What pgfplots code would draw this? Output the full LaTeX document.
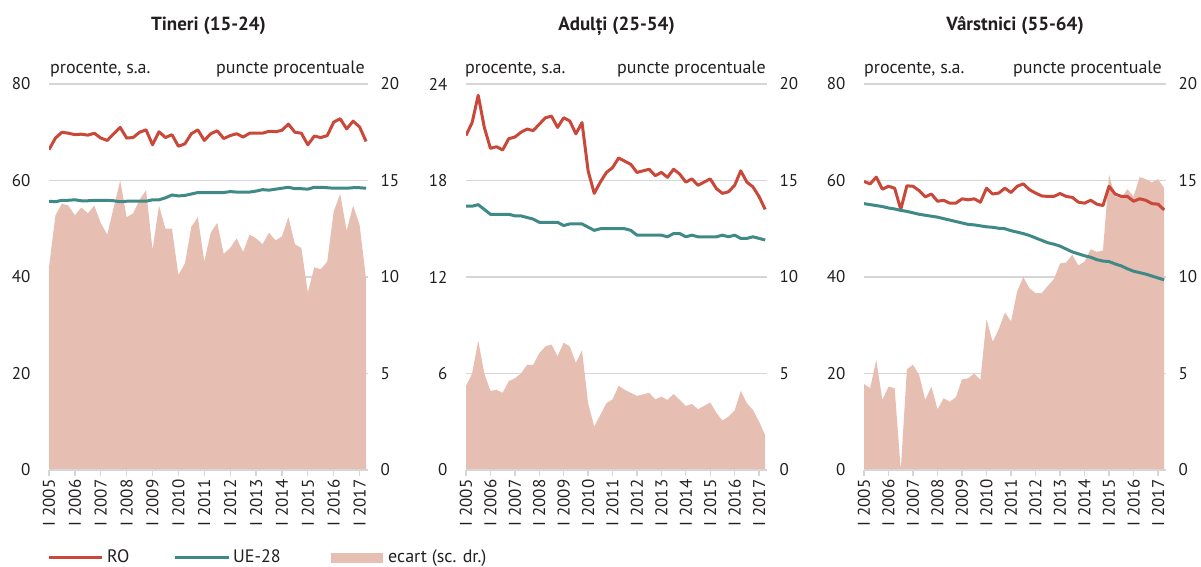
\documentclass[border=0pt]{standalone}
\usepackage{fontspec}
\setmainfont{PT Sans}
\usepackage{pgfplots}
\usepackage{pgfplotstable}
\pgfplotsset{compat=1.18}

\definecolor{roC}{HTML}{C9483A}
\definecolor{ueC}{HTML}{3F8A87}
\definecolor{gapC}{HTML}{E6BEB2}
\definecolor{gridC}{HTML}{D6D6D6}
\definecolor{txtC}{HTML}{231F20}

\pgfplotstableread{
i ro ue gap
0 66.4 55.7 10.5
1 68.8 55.6 13.2
2 70.0 55.9 13.8
3 69.8 55.9 13.7
4 69.5 56.0 13.2
5 69.6 55.8 13.6
6 69.4 55.8 13.3
7 69.8 55.9 13.7
8 68.8 55.9 12.8
9 68.3 55.9 12.2
10 69.7 55.8 13.6
11 71.0 55.6 15.0
12 68.8 55.7 13.1
13 68.9 55.7 13.3
14 70.0 55.7 14.0
15 70.5 55.7 14.5
16 67.4 56.0 11.4
17 70.1 56.0 13.7
18 68.9 56.4 12.5
19 69.5 57.0 12.5
20 67.1 56.8 10.1
21 67.6 56.9 10.7
22 69.7 57.2 12.6
23 70.5 57.5 13.1
24 68.3 57.5 10.8
25 69.7 57.5 12.3
26 70.3 57.5 12.8
27 68.7 57.5 11.2
28 69.3 57.7 11.5
29 69.7 57.6 12.0
30 69.0 57.6 11.3
31 69.8 57.6 12.2
32 69.8 57.8 12.0
33 69.8 58.1 11.7
34 70.2 58.0 12.3
35 70.1 58.2 11.9
36 70.4 58.4 12.1
37 71.7 58.6 13.1
38 70.0 58.3 11.7
39 69.8 58.3 11.5
40 67.4 58.2 9.2
41 69.2 58.6 10.5
42 68.9 58.6 10.4
43 69.3 58.5 10.8
44 72.1 58.4 13.4
45 72.8 58.4 14.3
46 70.7 58.4 12.4
47 72.3 58.5 13.7
48 71.1 58.5 12.7
49 68.1 58.4 9.9
}\tabA

\pgfplotstableread{
i ro ue gap
0 20.8 16.4 4.36
1 21.6 16.4 5.0
2 23.3 16.5 6.7
3 21.3 16.2 5.0
4 20.0 15.9 4.1
5 20.1 15.9 4.15
6 19.9 15.9 4.0
7 20.6 15.9 4.6
8 20.7 15.8 4.75
9 21.0 15.8 5.0
10 21.2 15.7 5.45
11 21.1 15.6 5.45
12 21.5 15.4 6.05
13 21.9 15.4 6.4
14 22.0 15.4 6.5
15 21.3 15.4 5.9
16 21.9 15.2 6.6
17 21.7 15.3 6.4
18 20.9 15.3 5.55
19 21.6 15.3 6.2
20 18.6 15.1 3.46
21 17.2 14.9 2.25
22 17.9 15.0 2.85
23 18.5 15.0 3.46
24 18.8 15.0 3.66
25 19.4 15.0 4.36
26 19.2 15.0 4.15
27 19.0 14.9 4.0
28 18.5 14.6 3.84
29 18.6 14.6 3.92
30 18.7 14.6 4.0
31 18.3 14.6 3.66
32 18.5 14.6 3.8
33 18.2 14.5 3.63
34 18.7 14.7 3.94
35 18.4 14.7 3.63
36 17.9 14.5 3.32
37 18.1 14.6 3.42
38 17.7 14.5 3.15
39 17.9 14.5 3.32
40 18.1 14.5 3.5
41 17.5 14.5 2.97
42 17.2 14.6 2.56
43 17.3 14.5 2.77
44 17.7 14.6 3.08
45 18.6 14.4 4.1
46 17.9 14.4 3.46
47 17.6 14.5 3.11
48 17.0 14.4 2.5
49 16.2 14.3 1.8
}\tabB

\pgfplotstableread{
i ro ue gap
0 59.8 55.2 4.46
1 59.3 55.0 4.24
2 60.7 54.8 5.7
3 58.2 54.6 3.63
4 58.8 54.3 4.32
5 58.4 54.1 4.24
6 54.0 53.8 0.0
7 58.9 53.6 5.22
8 58.8 53.3 5.45
9 57.9 53.0 4.93
10 56.6 52.8 3.63
11 57.2 52.6 4.32
12 55.7 52.4 3.15
13 55.9 52.1 3.72
14 55.3 51.8 3.54
15 55.3 51.5 3.77
16 56.2 51.2 4.7
17 56.0 50.9 4.75
18 56.2 50.8 5.0
19 55.5 50.6 4.67
20 58.4 50.4 7.81
21 57.2 50.3 6.65
22 57.4 50.1 7.3
23 58.4 50.0 8.16
24 57.5 49.6 7.7
25 58.8 49.3 9.25
26 59.3 49.0 10.0
27 58.1 48.6 9.42
28 57.4 48.1 9.16
29 56.8 47.6 9.16
30 56.7 47.1 9.54
31 56.7 46.8 9.89
32 57.3 46.4 10.7
33 56.7 45.8 10.75
34 56.5 45.2 11.15
35 55.5 44.8 10.6
36 55.3 44.4 10.8
37 55.9 44.1 11.44
38 55.1 43.6 11.3
39 54.8 43.3 11.37
40 58.8 43.2 15.3
41 57.2 42.7 14.17
42 56.7 42.3 14.09
43 56.7 41.7 14.55
44 55.7 41.2 14.17
45 56.2 40.9 15.18
46 55.9 40.6 15.07
47 55.2 40.2 14.9
48 55.1 39.8 15.07
49 53.9 39.4 14.6
}\tabC

\pgfplotsset{
  panel/.style={scale only axis, height=386pt, anchor=south west,
    xmin=0, xmax=49.3, axis line style={draw=none},
    tick style={draw=none},
    /pgf/number format/assume math mode=true,
    ticklabel style={font=\fontsize{17}{19}\selectfont, text=txtC}},
  gridaxis/.style={panel, xtick=\empty, ymajorgrids,
    grid style={gridC, line width=1.3pt},
    yticklabel style={xshift=-15pt}},
  rightaxis/.style={panel, xtick=\empty, ymin=0, ymax=20, ytick={0,5,...,20},
    yticklabel pos=right, yticklabel style={xshift=9pt}},
  lineaxis/.style={panel, ytick=\empty, axis y line=none, axis x line*=bottom,
    x axis line style={draw=gridC, line width=1.3pt},
    xtick={0,4,...,48},
    xticklabels={I 2005,I 2006,I 2007,I 2008,I 2009,I 2010,I 2011,I 2012,I 2013,I 2014,I 2015,I 2016,I 2017},
    xtick style={draw=gridC, line width=1.3pt},
    tick align=outside, major tick length=6pt,
    xticklabel style={rotate=90, anchor=east, font=\fontsize{17}{19}\selectfont}},
  roline/.style={roC, line width=3pt, line join=round},
  ueline/.style={ueC, line width=3pt, line join=round},
}

\newcommand{\subt}[2]{%
  \node[anchor=base west, font=\fontsize{18}{20}\selectfont, text=txtC, inner sep=0pt] at (#1pt,493pt) {procente, s.a.};
  \node[anchor=base east, font=\fontsize{18}{20}\selectfont, text=txtC, inner sep=0pt] at (#2pt,493pt) {puncte procentuale};
}

\begin{document}
\begin{tikzpicture}
\path (0,0) rectangle (1201pt,567pt);

% ---------- Panel 1 ----------
\begin{axis}[gridaxis, width=319pt, at={(49pt,97pt)}, ymin=0, ymax=80, ytick={0,20,...,80}]
\end{axis}
\begin{axis}[rightaxis, width=319pt, at={(49pt,97pt)}]
\addplot[fill=gapC, draw=none] table[x=i, y=gap] {\tabA} \closedcycle;
\end{axis}
\begin{axis}[lineaxis, width=319pt, at={(49pt,97pt)}, ymin=0, ymax=80]
\addplot[roline] table[x=i, y=ro] {\tabA};
\addplot[ueline] table[x=i, y=ue] {\tabA};
\end{axis}

% ---------- Panel 2 ----------
\begin{axis}[gridaxis, width=301pt, at={(466pt,97pt)}, ymin=0, ymax=24, ytick={0,6,...,24}]
\end{axis}
\begin{axis}[rightaxis, width=301pt, at={(466pt,97pt)}]
\addplot[fill=gapC, draw=none] table[x=i, y=gap] {\tabB} \closedcycle;
\end{axis}
\begin{axis}[lineaxis, width=301pt, at={(466pt,97pt)}, ymin=0, ymax=24]
\addplot[roline] table[x=i, y=ro] {\tabB};
\addplot[ueline] table[x=i, y=ue] {\tabB};
\end{axis}

% ---------- Panel 3 ----------
\begin{axis}[gridaxis, width=302pt, at={(864pt,97pt)}, ymin=0, ymax=80, ytick={0,20,...,80}]
\end{axis}
\begin{axis}[rightaxis, width=302pt, at={(864pt,97pt)}]
\addplot[fill=gapC, draw=none] table[x=i, y=gap] {\tabC} \closedcycle;
\end{axis}
\begin{axis}[lineaxis, width=302pt, at={(864pt,97pt)}, ymin=0, ymax=80]
\addplot[roline] table[x=i, y=ro] {\tabC};
\addplot[ueline] table[x=i, y=ue] {\tabC};
\end{axis}

% titles
\node[font=\bfseries\fontsize{19}{22}\selectfont, text=txtC] at (208.5pt,541pt) {Tineri (15-24)};
\node[font=\bfseries\fontsize{19}{22}\selectfont, text=txtC] at (616.5pt,541pt) {Adulți (25-54)};
\node[font=\bfseries\fontsize{19}{22}\selectfont, text=txtC] at (1015pt,541pt) {Vârstnici (55-64)};

\subt{50}{365}
\subt{465}{766}
\subt{864}{1162}

% legend
\draw[roC, line width=3pt] (49pt,9pt) -- (102pt,9pt);
\node[anchor=base west, font=\fontsize{18}{20}\selectfont, text=txtC, inner sep=0pt] at (107pt,4pt) {RO};
\draw[ueC, line width=3pt] (175pt,9pt) -- (229pt,9pt);
\node[anchor=base west, font=\fontsize{18}{20}\selectfont, text=txtC, inner sep=0pt] at (233pt,4pt) {UE-28};
\fill[gapC] (331pt,4pt) rectangle (383pt,14pt);
\node[anchor=base west, font=\fontsize{18}{20}\selectfont, text=txtC, inner sep=0pt] at (388pt,4pt) {ecart (sc. dr.)};

\pgfresetboundingbox
\useasboundingbox (0,0) rectangle (1201pt,567pt);
\end{tikzpicture}
\end{document}
